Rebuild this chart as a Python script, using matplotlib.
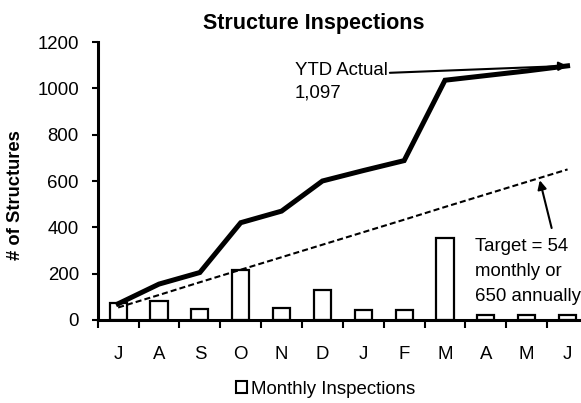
import matplotlib
matplotlib.use("Agg")
import matplotlib.pyplot as plt
from matplotlib.patches import Patch

plt.rcParams['font.family'] = ['Liberation Sans', 'DejaVu Sans']

# Fiscal-year months (July through June)
months = ["J", "A", "S", "O", "N", "D", "J", "F", "M", "A", "M", "J"]
monthly_inspections = [72, 82, 48, 215, 50, 130, 45, 42, 355, 20, 20, 23]
ytd_actual = [70, 155, 205, 420, 470, 600, 645, 688, 1035, 1055, 1075, 1097]
ytd_target = [54, 108, 163, 217, 271, 325, 379, 433, 488, 542, 596, 650]
y_ticks = [0, 200, 400, 600, 800, 1000, 1200]

W, H = 581, 403
fig = plt.figure(figsize=(W / 100, H / 100), dpi=100)
ax = fig.add_axes([97.7 / W, (H - 320) / H, (588 - 97.7) / W, (320 - 42) / H])

x = list(range(len(months)))
ax.bar(x, monthly_inspections, width=0.42, color="white", edgecolor="black",
       linewidth=1.6, zorder=2)
ax.plot(x, ytd_target, color="black", linewidth=1.5, linestyle=(0, (2.9, 1.5)),
        zorder=3)
ax.plot(x, ytd_actual, color="black", linewidth=3.6, solid_joinstyle="miter",
        zorder=4)

ax.set_xlim(-0.5, len(months) - 0.5)
ax.set_ylim(0, 1200)
ax.set_yticks(y_ticks)
ax.set_yticklabels([str(v) for v in y_ticks], fontsize=13.4)

# category boundaries get tick marks, centres get the labels
ax.set_xticks([i - 0.5 for i in range(len(months) + 1)])
ax.set_xticklabels([])
ax.set_xticks(x, minor=True)
ax.set_xticklabels(months, minor=True, fontsize=13.4)
ax.tick_params(axis="x", which="major", direction="out", length=5.5, width=1.5)
ax.tick_params(axis="x", which="minor", length=0, pad=18.5)
ax.tick_params(axis="y", direction="out", length=4.5, width=1.5, pad=9)

for side in ("top", "right"):
    ax.spines[side].set_visible(False)
for side in ("left", "bottom"):
    ax.spines[side].set_linewidth(2.2)

# annotations
ax.text(4.33, 1112, "YTD Actual\n1,097", fontsize=13.4, ha="left", va="top",
        linespacing=1.4)
ax.annotate("", xy=(11, 1097), xytext=(6.65, 1067),
            arrowprops=dict(arrowstyle="-|>", color="black", lw=1.5,
                            mutation_scale=13, shrinkA=0, shrinkB=0))
ax.text(8.73, 354, "Target = 54\nmonthly or\n650 annually", fontsize=13.4,
        ha="left", va="top", linespacing=1.6)
ax.annotate("", xy=(10.32, 603), xytext=(10.61, 397),
            arrowprops=dict(arrowstyle="-|>", color="black", lw=1.5,
                            mutation_scale=13, shrinkA=0, shrinkB=0))

fig.text(314 / W, 1 - 29 / H, "Structure Inspections", fontsize=15.5,
         fontweight="bold", ha="center", va="baseline")
fig.text(16 / W, 1 - 195 / H, "# of Structures", fontsize=13.2,
         fontweight="bold", rotation=90, ha="center", va="center")

fig.legend(handles=[Patch(facecolor="white", edgecolor="black", linewidth=1.5,
                          label="Monthly Inspections")],
           loc="center", bbox_to_anchor=(325.5 / W, 1 - 389 / H),
           frameon=False, fontsize=13.4, handlelength=0.6, handleheight=0.65,
           handletextpad=0.2, borderpad=0, borderaxespad=0)

fig.savefig("out.png", dpi=100)
